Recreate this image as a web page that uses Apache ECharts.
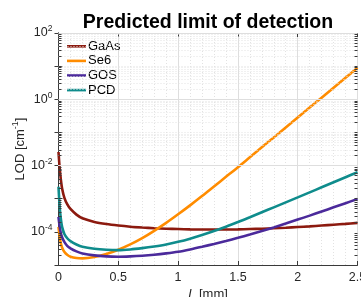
<!DOCTYPE html>
<html>
<head>
<meta charset="utf-8">
<script src="https://cdn.jsdelivr.net/npm/echarts@6/dist/echarts.min.js"></script>
<style>html,body{margin:0;padding:0;background:#fff}#c{width:361px;height:297px}</style>
</head>
<body>
<div id="c"></div>
<script>
// ---- data (LOD given as its decade exponent, log10 of cm^-1) ----
const titleText = 'Predicted limit of detection';
const xValues = [0, 0.01, 0.02, 0.03, 0.05, 0.075, 0.1, 0.15, 0.2, 0.3, 0.4, 0.5, 0.6, 0.7, 0.8, 0.9, 1.0, 1.1, 1.2, 1.3, 1.4, 1.5, 1.6, 1.7, 1.8, 1.9, 2.0, 2.1, 2.2, 2.3, 2.4, 2.5];
const gaasLog = [-1.59, -2.08, -2.43, -2.69, -2.98, -3.18, -3.31, -3.48, -3.59, -3.70, -3.765, -3.81, -3.845, -3.87, -3.89, -3.905, -3.915, -3.925, -3.93, -3.93, -3.93, -3.925, -3.915, -3.905, -3.89, -3.875, -3.855, -3.835, -3.81, -3.785, -3.76, -3.73];
const se6Log = [-3.85, -4.15, -4.35, -4.47, -4.61, -4.70, -4.75, -4.79, -4.80, -4.76, -4.67, -4.54, -4.38, -4.19, -3.97, -3.73, -3.47, -3.20, -2.92, -2.63, -2.34, -2.05, -1.75, -1.45, -1.15, -0.85, -0.55, -0.25, 0.05, 0.35, 0.65, 0.95];
const gosLog = [-3.55, -3.85, -4.04, -4.16, -4.31, -4.43, -4.50, -4.59, -4.65, -4.71, -4.74, -4.75, -4.74, -4.72, -4.69, -4.65, -4.60, -4.53, -4.45, -4.365, -4.275, -4.18, -4.08, -3.975, -3.865, -3.75, -3.63, -3.51, -3.385, -3.26, -3.135, -3.01];
const pcdLog = [-2.64, -3.25, -3.62, -3.85, -4.07, -4.20, -4.28, -4.38, -4.45, -4.51, -4.54, -4.55, -4.53, -4.49, -4.44, -4.38, -4.30, -4.205, -4.095, -3.975, -3.845, -3.705, -3.56, -3.41, -3.26, -3.11, -2.96, -2.808, -2.656, -2.504, -2.352, -2.20];
const seriesNames = ['GaAs', 'Se6', 'GOS', 'PCD'];
const xTickValues = [0, 0.5, 1, 1.5, 2, 2.5];
const yTickExponents = [-4, -2, 0, 2];

// ---- styles ----
const FONT = '"Liberation Sans", Arial, Helvetica, sans-serif';
const colors = ['#8c1a0f', '#ff8c00', '#4b2a9b', '#0f8c8c'];
const seriesLogs = [gaasLog, se6Log, gosLog, pcdLog];

const X_MIN = 0, X_MAX = 2.5, Y_MIN = 1e-5, Y_MAX = 1e2;
// gridlines / minor ticks on the log axis
const majorLines = [], minorLines = [], minorTicks = [];
const tickLen = (X_MAX - X_MIN) * 3 / 299;
for (let e = -5; e <= 2; e++) {
  const base = Math.pow(10, e);
  const vals = [];
  if (yTickExponents.indexOf(e) >= 0) majorLines.push({ yAxis: base });
  else if (e > -5 && e < 2) { minorLines.push({ yAxis: base }); vals.push(base); }
  if (e < 2) for (let k = 2; k <= 9; k++) { minorLines.push({ yAxis: k * base }); vals.push(k * base); }
  vals.forEach(v => {
    minorTicks.push([{ coord: [X_MIN, v] }, { coord: [X_MIN + tickLen, v] }]);
    minorTicks.push([{ coord: [X_MAX - tickLen, v] }, { coord: [X_MAX, v] }]);
  });
}

const chart = echarts.init(document.getElementById('c'), null, { renderer: 'canvas' });
const axisColor = '#3a3a3a';
const txt = '#262626';
const option = {
  animation: false,
  aria: { enabled: false },
  backgroundColor: '#fff',
  textStyle: { fontFamily: FONT },
  title: {
    text: titleText, left: 203, top: 8, textAlign: 'center',
    textStyle: { fontFamily: FONT, fontSize: 19.5, fontWeight: 'bold', color: '#000' }
  },
  legend: {
    orient: 'vertical', left: 67, top: 39, padding: 0,
    icon: 'rect', itemWidth: 19, itemHeight: 2.6, itemGap: 0,
    textStyle: { fontFamily: FONT, fontSize: 13, color: '#000', lineHeight: 14.6, padding: [0, 0, 0, -3] },
    data: seriesNames
  },
  grid: { left: 58.5, right: 3.5, top: 33, bottom: 32, containLabel: false, outerBoundsMode: 'none' },
  xAxis: [{
    type: 'value', min: X_MIN, max: X_MAX, interval: 0.5,
    name: '{i|L} [mm]', nameLocation: 'middle', nameGap: 23, nameMoveOverlap: false,
    nameTextStyle: { fontFamily: FONT, fontSize: 13, color: txt, rich: { i: { fontStyle: 'italic', fontFamily: FONT, fontSize: 13, color: txt } } },
    axisLine: { show: true, lineStyle: { color: axisColor, width: 1 } },
    axisTick: { show: true, inside: true, length: 4, lineStyle: { color: axisColor } },
    axisLabel: { margin: 6, fontFamily: FONT, fontSize: 12.5, color: txt, showMaxLabel: true, hideOverlap: false,
      formatter: v => (xTickValues.indexOf(+(+v).toFixed(2)) >= 0 ? String(+(+v).toFixed(2)) : '') },
    splitLine: { show: true, lineStyle: { color: '#dedede', width: 1, type: 'solid' } },
    minorTick: { show: false, splitNumber: 5 },
    minorSplitLine: { show: true, lineStyle: { color: '#e2e2e2', width: 1, type: [1, 2] } }
  }, {
    type: 'value', min: X_MIN, max: X_MAX, interval: 0.5, position: 'top',
    axisLine: { show: true, lineStyle: { color: axisColor, width: 1 } },
    axisTick: { show: true, inside: true, length: 4, lineStyle: { color: axisColor } },
    axisLabel: { show: false }, splitLine: { show: false }
  }],
  yAxis: [{
    type: 'log', logBase: 10, min: Y_MIN, max: Y_MAX,
    name: 'LOD [cm{s|-1}]', nameLocation: 'middle', nameGap: 30, nameRotate: 90, nameMoveOverlap: false,
    nameTextStyle: { fontFamily: FONT, fontSize: 13, color: txt, rich: { s: { fontSize: 9, fontFamily: FONT, color: txt, padding: [0, 0, 8, 0] } } },
    axisLine: { show: true, lineStyle: { color: axisColor, width: 1 } },
    axisTick: { show: true, inside: true, length: 4, lineStyle: { color: axisColor } },
    axisLabel: {
      margin: 6, fontFamily: FONT, fontSize: 12.5, color: txt,
      formatter: v => {
        const e = Math.round(Math.log10(v));
        return yTickExponents.indexOf(e) >= 0 ? '{b|10}{s|' + e + '}' : '';
      },
      rich: {
        b: { fontFamily: FONT, fontSize: 12.5, color: txt },
        s: { fontFamily: FONT, fontSize: 8.5, color: txt, padding: [0, 0, 8, 0] }
      }
    },
    splitLine: { show: false }
  }, {
    type: 'log', logBase: 10, min: Y_MIN, max: Y_MAX, position: 'right',
    axisLine: { show: true, lineStyle: { color: axisColor, width: 1 } },
    axisTick: { show: true, inside: true, length: 4, lineStyle: { color: axisColor } },
    axisLabel: { show: false }, splitLine: { show: false }
  }],
  series: [{
    type: 'line', name: '_grid', data: [], z: 1, silent: true,
    markLine: {
      silent: true, symbol: 'none', label: { show: false }, animation: false,
      lineStyle: { color: '#e2e2e2', width: 1, type: [1, 2] },
      data: minorLines
    }
  }, {
    type: 'line', name: '_grid2', data: [], z: 1, silent: true,
    markLine: {
      silent: true, symbol: 'none', label: { show: false }, animation: false,
      lineStyle: { color: '#dedede', width: 1, type: 'solid' },
      data: majorLines
    }
  }, {
    type: 'line', name: '_ticks', data: [], z: 4, silent: true,
    markLine: {
      silent: true, symbol: 'none', label: { show: false }, animation: false,
      lineStyle: { color: axisColor, width: 1, type: 'solid' },
      data: minorTicks
    }
  }].concat(seriesNames.map((n, i) => ({
    type: 'line', name: n, z: 3,
    data: xValues.map((x, j) => [x, Math.pow(10, seriesLogs[i][j])]),
    showSymbol: false, symbol: 'none', smooth: 0.3,
    lineStyle: { color: colors[i], width: 2.6, type: 'solid' },
    itemStyle: { color: colors[i] }
  })))
};
chart.setOption(option);
</script>
</body>
</html>
